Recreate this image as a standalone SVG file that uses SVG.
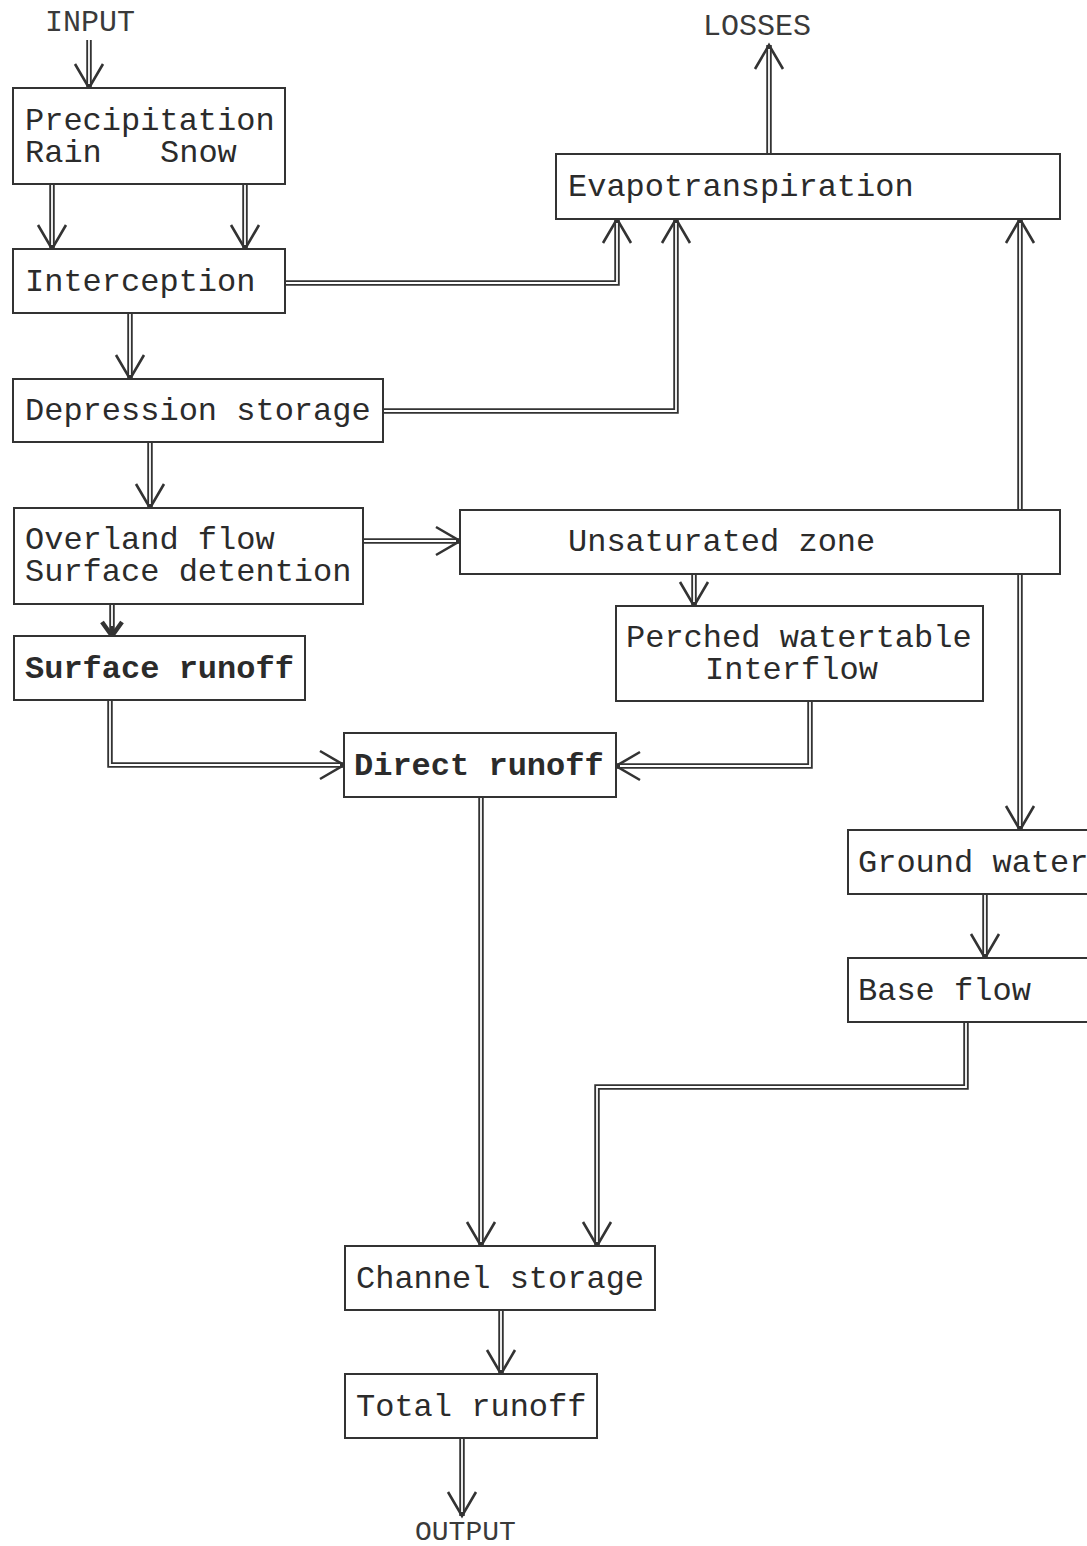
<svg xmlns="http://www.w3.org/2000/svg" width="1087" height="1546" viewBox="0 0 1087 1546">
<style>
.box{fill:#fff;stroke:#333;stroke-width:2}
.t{font-family:"Liberation Mono","DejaVu Sans Mono",monospace;font-size:32px;fill:#2b2b2b}
.b{font-weight:bold}
.lbl{font-family:"Liberation Mono","DejaVu Sans Mono",monospace;font-size:30px;fill:#3a3a3a}
.o{fill:none;stroke:#333;stroke-width:5.5;stroke-linejoin:miter;marker-end:url(#arr)}
.ob{fill:none;stroke:#333;stroke-width:5.5;marker-end:url(#arrb)}
.i{fill:none;stroke:#fff;stroke-width:1.8;stroke-linejoin:miter}
</style>
<defs>
<marker id="arr" markerUnits="userSpaceOnUse" markerWidth="50" markerHeight="50" refX="30" refY="25" orient="auto" viewBox="0 0 50 50">
<path d="M6 11 L30 25 L6 39" fill="none" stroke="#333" stroke-width="2.6"/>
</marker>
<marker id="arrb" markerUnits="userSpaceOnUse" markerWidth="50" markerHeight="50" refX="30" refY="25" orient="auto" viewBox="0 0 50 50">
<path d="M16 15 L30 25 L16 35" fill="none" stroke="#333" stroke-width="4.5"/>
</marker>
</defs>
<rect width="1087" height="1546" fill="#fff"/>
<g id="connectors">
<path class="o" d="M89 40 V88"/><path class="i" d="M89 40 V84"/>
<path class="o" d="M52 184 V249"/><path class="i" d="M52 184 V245"/>
<path class="o" d="M245 184 V249"/><path class="i" d="M245 184 V245"/>
<path class="o" d="M285 283 H617 V219"/><path class="i" d="M285 283 H617 V223"/>
<path class="o" d="M130 313 V379"/><path class="i" d="M130 313 V375"/>
<path class="o" d="M383 411 H676 V219"/><path class="i" d="M383 411 H676 V223"/>
<path class="o" d="M150 442 V508"/><path class="i" d="M150 442 V504"/>
<path class="ob" d="M112 604 V636"/><path class="i" d="M112 604 V626"/>
<path class="o" d="M363 541 H460"/><path class="i" d="M363 541 H456"/>
<path class="o" d="M694 574 V606"/><path class="i" d="M694 574 V602"/>
<path class="o" d="M110 700 V765 H344"/><path class="i" d="M110 700 V765 H340"/>
<path class="o" d="M810 701 V766 H616"/><path class="i" d="M810 701 V766 H620"/>
<path class="o" d="M481 797 V1246"/><path class="i" d="M481 797 V1242"/>
<path class="o" d="M1020 510 V219"/><path class="i" d="M1020 510 V223"/>
<path class="o" d="M1020 574 V830"/><path class="i" d="M1020 574 V826"/>
<path class="o" d="M769 154 V45"/><path class="i" d="M769 154 V49"/>
<path class="o" d="M985 894 V958"/><path class="i" d="M985 894 V954"/>
<path class="o" d="M966 1022 V1087 H597 V1246"/><path class="i" d="M966 1022 V1087 H597 V1242"/>
<path class="o" d="M501 1310 V1374"/><path class="i" d="M501 1310 V1370"/>
<path class="o" d="M462 1438 V1516"/><path class="i" d="M462 1438 V1512"/>
</g>
<g id="input"><text class="lbl" x="45" y="31">INPUT</text></g>
<g id="losses"><text class="lbl" x="703" y="35">LOSSES</text></g>
<g id="output"><text class="lbl" x="415" y="1540" style="font-size:28px">OUTPUT</text></g>
<g id="precipitation"><rect class="box" x="13" y="88" width="272" height="96"/><text class="t" x="25" y="130">Precipitation</text><text class="t" x="25" y="162">Rain</text><text class="t" x="160" y="162">Snow</text></g>
<g id="interception"><rect class="box" x="13" y="249" width="272" height="64"/><text class="t" x="25" y="291">Interception</text></g>
<g id="depression"><rect class="box" x="13" y="379" width="370" height="63"/><text class="t" x="25" y="420">Depression storage</text></g>
<g id="overland"><rect class="box" x="14" y="508" width="349" height="96"/><text class="t" x="25" y="549">Overland flow</text><text class="t" x="25" y="581">Surface detention</text></g>
<g id="surface-runoff"><rect class="box" x="14" y="636" width="291" height="64"/><text class="t b" x="25" y="678">Surface runoff</text></g>
<g id="evapotranspiration"><rect class="box" x="556" y="154" width="504" height="65"/><text class="t" x="568" y="196">Evapotranspiration</text></g>
<g id="unsaturated"><rect class="box" x="460" y="510" width="600" height="64"/><text class="t" x="568" y="551">Unsaturated zone</text></g>
<g id="perched"><rect class="box" x="616" y="606" width="367" height="95"/><text class="t" x="626" y="647">Perched watertable</text><text class="t" x="705" y="679">Interflow</text></g>
<g id="direct-runoff"><rect class="box" x="344" y="733" width="272" height="64"/><text class="t b" x="354" y="775">Direct runoff</text></g>
<g id="ground-water"><rect class="box" x="848" y="830" width="260" height="64"/><text class="t" x="858" y="872">Ground water</text></g>
<g id="base-flow"><rect class="box" x="848" y="958" width="260" height="64"/><text class="t" x="858" y="1000">Base flow</text></g>
<g id="channel-storage"><rect class="box" x="345" y="1246" width="310" height="64"/><text class="t" x="356" y="1288">Channel storage</text></g>
<g id="total-runoff"><rect class="box" x="345" y="1374" width="252" height="64"/><text class="t" x="356" y="1416">Total runoff</text></g>
</svg>
